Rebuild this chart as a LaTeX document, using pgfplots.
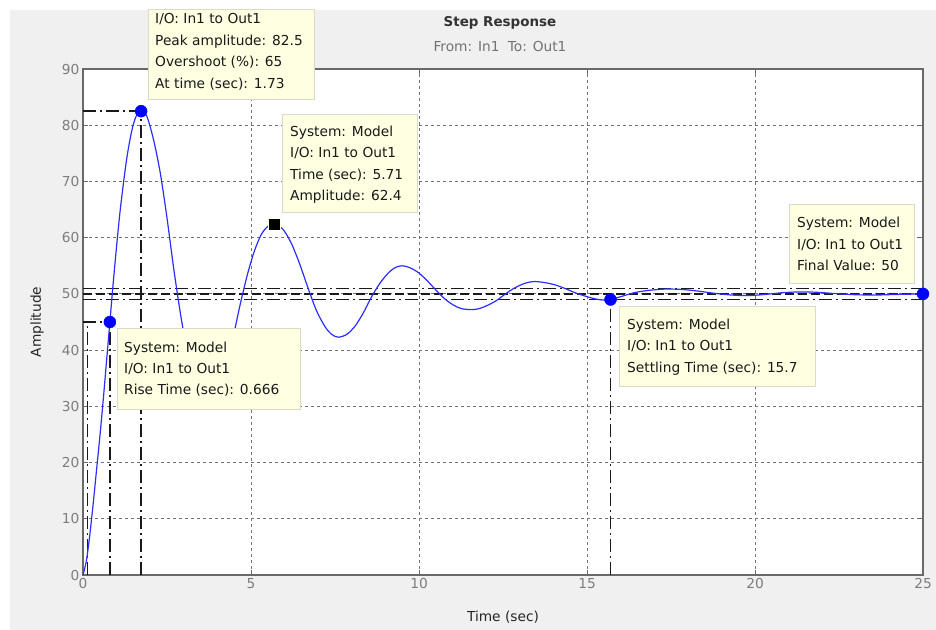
\documentclass[border=0pt]{standalone}
\usepackage{pgfplots}
\pgfplotsset{compat=1.18}
\usepackage{fontspec}
\setmainfont{DejaVu Sans}
\definecolor{figgray}{RGB}{240,240,240}
\definecolor{tipfill}{RGB}{255,255,225}
\definecolor{tipedge}{RGB}{218,218,200}
\definecolor{axgray}{RGB}{105,105,105}
\definecolor{ticklab}{RGB}{125,125,125}
\definecolor{curve}{RGB}{45,45,255}
\tikzset{
  dashdot/.style={black!90, line width=1.4bp, dash pattern=on 13bp off 4bp on 2bp off 4bp},
  dashline/.style={black!90, line width=1.3bp, dash pattern=on 9bp off 4bp},
  tipbox/.style={fill=tipfill, draw=tipedge, line width=1bp},
  tiptext/.style={anchor=base west, inner sep=0pt, text=black!90},
}
\begin{document}
\begin{tikzpicture}[font=\fontsize{13.8}{16}\selectfont]
\fill[white] (-83bp,-55bp) rectangle (853bp,575bp);
\fill[figgray] (-73bp,-55bp) rectangle (853bp,565bp);
\begin{axis}[at={(0,0)}, anchor=south west, scale only axis,
  width=840bp, height=506bp,
  xmin=0, xmax=25, ymin=0, ymax=90,
  xtick={0,5,...,25}, ytick={0,10,...,90},
  axis background/.style={fill=white},
  axis line style={axgray, line width=1.3bp},
  tick style={axgray, line width=1bp}, tick align=inside, major tick length=5bp,
  grid=major, grid style={black!55, line width=0.8bp, dash pattern=on 3bp off 3bp},
  ticklabel style={ticklab, font=\fontsize{13.8}{16}\selectfont},
  /pgf/number format/assume math mode=true,
  xlabel={Time (sec)}, ylabel={Amplitude},
  xlabel style={at={(axis description cs:0.5,-0.083)}, anchor=center, text=black!85},
  ylabel style={at={(axis description cs:-0.0548,0.5)}, anchor=center, text=black!85},
  clip=false]
% characteristic lines
\addplot[dashdot] coordinates {(0,82.5) (1.73,82.5)};
\addplot[dashdot] coordinates {(1.73,0) (1.73,82.5)};
\addplot[dashdot] coordinates {(0,45) (0.8,45)};
\addplot[dashdot] coordinates {(0.8,0) (0.8,45)};
\addplot[dashdot] coordinates {(0.134,0) (0.134,45)};
\addplot[dashdot] coordinates {(15.7,0) (15.7,49)};
\addplot[dashdot] coordinates {(0,49) (25,49)};
\addplot[dashdot] coordinates {(0,51) (25,51)};
\addplot[dashline] coordinates {(0,50) (25,50)};
% step response
\addplot[curve, line width=1.2bp, smooth, tension=0.5] coordinates {
(0,0) (0.1,2.5) (0.2,7) (0.3,12.5) (0.4,18.5) (0.5,24.5) (0.6,31) (0.7,38)
(0.8,45) (0.9,52) (1.0,58.5) (1.1,64.5) (1.2,69.5) (1.3,74) (1.4,77.5)
(1.5,80.2) (1.6,81.8) (1.73,82.5)
(1.9,81.6) (2.1,77.4) (2.3,71.5) (2.5,63.5) (2.7,54.5) (2.9,46.5) (3.1,39.8)
(3.3,34.8) (3.5,31.7) (3.7,30.5)
(3.9,31.2) (4.1,33.6) (4.3,37.8) (4.5,43.2) (4.7,48.7) (4.9,53.6) (5.1,57.6)
(5.3,60.5) (5.5,62.0) (5.71,62.4)
(5.95,61.5) (6.2,59.0) (6.45,55.3) (6.7,51.0) (6.95,47.0) (7.2,44.2) (7.4,42.8) (7.6,42.3)
(7.85,42.8) (8.1,44.3) (8.35,46.7) (8.6,49.6) (8.85,52.0) (9.1,53.8) (9.3,54.7) (9.5,55.0)
(9.75,54.6) (10.0,53.7) (10.25,52.3) (10.5,50.7) (10.75,49.2) (11.0,48.1) (11.25,47.4) (11.57,47.2)
(11.8,47.4) (12.05,48.0) (12.3,48.8) (12.55,49.9) (12.8,50.9) (13.05,51.65) (13.25,52.05) (13.45,52.2)
(13.75,52.0) (14.05,51.6) (14.35,50.95) (14.65,50.2) (14.95,49.6) (15.25,49.1) (15.5,48.9) (15.7,49.0)
(16.0,49.5) (16.4,50.2) (16.8,50.6) (17.3,50.85) (17.8,50.8) (18.3,50.5) (18.8,50.1)
(19.3,49.8) (19.8,49.7) (20.3,49.9) (20.8,50.2) (21.3,50.35) (21.8,50.3) (22.4,50.05)
(23.0,49.85) (23.6,49.8) (24.2,49.9) (25,50)};
% markers
\addplot[only marks, mark=*, mark size=6bp, mark options={fill=blue, draw=blue}]
  coordinates {(0.8,45) (1.73,82.5) (15.7,49) (25,50)};
\addplot[only marks, mark=square*, mark size=6bp, mark options={fill=black, draw=tipfill, line width=1.2bp}]
  coordinates {(5.71,62.4)};
\end{axis}
\begin{scope}[x=1bp, y=-1bp, shift={(-83bp,575bp)}]
% title
\node[font=\bfseries\fontsize{13.5}{16}\selectfont, text=black!80] at (500,23) {Step Response};
\node[text=black!55] at (500,47) {From: In1\hspace{0.6em}To: Out1};
% peak tip
\filldraw[tipbox] (148,10) rectangle (314,100);
\node[tiptext] at (155,24) {I/O: In1 to Out1};
\node[tiptext] at (155,46) {Peak amplitude: 82.5};
\node[tiptext] at (155,67) {Overshoot (\%): 65};
\node[tiptext] at (155,89) {At time (sec): 1.73};
% 5.71 tip
\filldraw[tipbox] (282,115) rectangle (417,213);
\node[tiptext] at (290,137) {System: Model};
\node[tiptext] at (290,158) {I/O: In1 to Out1};
\node[tiptext] at (290,180) {Time (sec): 5.71};
\node[tiptext] at (290,201) {Amplitude: 62.4};
% rise tip
\filldraw[tipbox] (117,329) rectangle (300,410);
\node[tiptext] at (124,353) {System: Model};
\node[tiptext] at (124,374) {I/O: In1 to Out1};
\node[tiptext] at (124,395) {Rise Time (sec): 0.666};
% settling tip
\filldraw[tipbox] (619,307) rectangle (815,387);
\node[tiptext] at (627,330) {System: Model};
\node[tiptext] at (627,351) {I/O: In1 to Out1};
\node[tiptext] at (627,373) {Settling Time (sec): 15.7};
% final tip
\filldraw[tipbox] (789,205) rectangle (914,284);
\node[tiptext] at (797,228) {System: Model};
\node[tiptext] at (797,250) {I/O: In1 to Out1};
\node[tiptext] at (797,271) {Final Value: 50};
\pgfresetboundingbox
\useasboundingbox (0,0) rectangle (936,630);
\end{scope}
\end{tikzpicture}
\end{document}
